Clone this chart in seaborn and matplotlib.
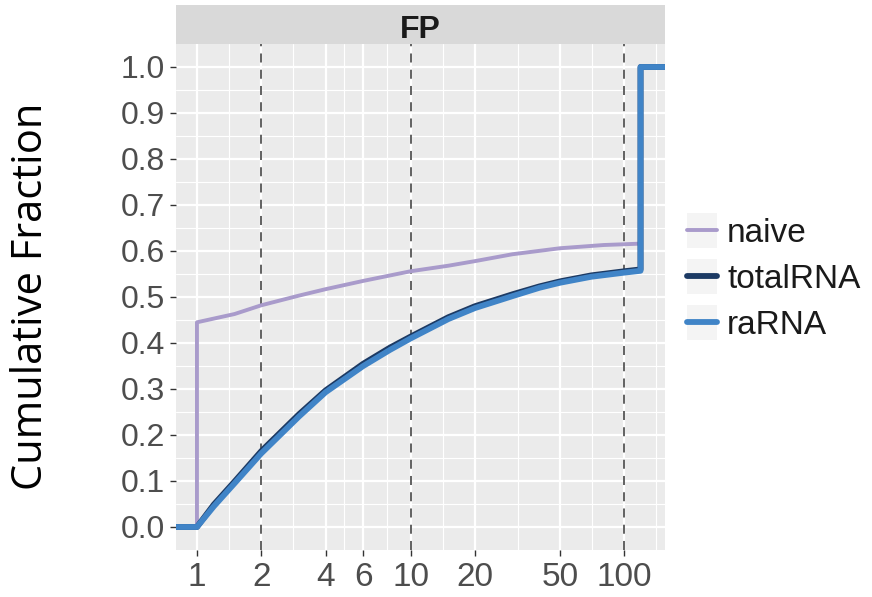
import numpy as np
import pandas as pd
import matplotlib
matplotlib.use("Agg")
import matplotlib.pyplot as plt
import seaborn as sns
from matplotlib.ticker import FixedLocator, NullFormatter
from matplotlib.legend_handler import HandlerLine2D
from matplotlib.patches import Rectangle

# Cumulative fraction of genes against fold change (log scale), panel "FP"
naive_x = [1, 1, 1.5, 2, 3, 4, 6, 10, 15, 20, 30, 50, 80, 119, 119]
naive_y = [0, 0.445, 0.463, 0.482, 0.503, 0.517, 0.535, 0.556, 0.568, 0.578, 0.593, 0.606, 0.613, 0.616, 1.0]

total_x = [1, 1.2, 1.5, 2, 3, 4, 6, 8, 10, 15, 20, 30, 40, 50, 70, 100, 119, 119]
total_y = [0, 0.049, 0.099, 0.165, 0.245, 0.297, 0.355, 0.390, 0.414, 0.456, 0.480, 0.506, 0.523, 0.534, 0.547, 0.556, 0.560, 1.0]

ra_x = [1, 1.2, 1.5, 2, 3, 4, 6, 8, 10, 15, 20, 30, 40, 50, 70, 100, 119, 119]
ra_y = [0, 0.045, 0.095, 0.160, 0.240, 0.293, 0.350, 0.385, 0.410, 0.452, 0.476, 0.502, 0.520, 0.531, 0.544, 0.553, 0.557, 1.0]

groups = ["naive", "totalRNA", "raRNA"]
colors = ["#a99bcb", "#1c3a64", "#4084c7"]
widths = [2.8, 4.2, 4.2]

x_breaks = [1, 2, 4, 6, 10, 20, 50, 100]
x_labels = ["1", "2", "4", "6", "10", "20", "50", "100"]
ref_lines = [2, 10, 100]
y_breaks = [0.0, 0.1, 0.2, 0.3, 0.4, 0.5, 0.6, 0.7, 0.8, 0.9, 1.0]

# ECDF ends run out to the panel edges (beyond the visible range)
x_pad_lo, x_pad_hi = 0.5, 300

series = {"naive": (naive_x, naive_y), "totalRNA": (total_x, total_y), "raRNA": (ra_x, ra_y)}
frames = []
for g in groups:
    xs, ys = series[g]
    xs = [x_pad_lo] + list(xs) + [x_pad_hi]
    ys = [0.0] + list(ys) + [1.0]
    frames.append(pd.DataFrame({"fold": xs, "frac": ys, "group": g}))
df = pd.concat(frames, ignore_index=True)

sns.set_theme(style="darkgrid")
plt.rcParams["font.family"] = ["Liberation Sans", "DejaVu Sans"]

fig = plt.figure(figsize=(8.72, 5.97), dpi=100)
fig.patch.set_facecolor("white")
ax = fig.add_axes([176 / 872, 1 - 550 / 597, (665 - 176) / 872, (550 - 44) / 597])
ax.set_facecolor("#ebebeb")

for g, c, w in zip(groups, colors, widths):
    sub = df[df["group"] == g]
    sns.lineplot(data=sub, x="fold", y="frac", sort=False, estimator=None,
                 color=c, linewidth=w, ax=ax, label=g, zorder=3)

ax.set_xscale("log")
ax.set_xlim(10 ** -0.098, 10 ** 2.19)
ax.set_ylim(-0.05, 1.05)

for v in ref_lines:
    ax.axvline(v, color="#555555", linestyle=(0, (5, 4)), linewidth=1.3, zorder=2)

ax.xaxis.set_major_locator(FixedLocator(x_breaks))
ax.set_xticklabels(x_labels)
minor_x = [np.sqrt(a * b) for a, b in zip(x_breaks[:-1], x_breaks[1:])] + [140]
ax.xaxis.set_minor_locator(FixedLocator(minor_x))
ax.xaxis.set_minor_formatter(NullFormatter())
ax.set_yticks(y_breaks)
ax.set_yticklabels([f"{v:.1f}" for v in y_breaks])
ax.yaxis.set_minor_locator(FixedLocator([v + 0.05 for v in y_breaks[:-1]]))

ax.grid(which="major", color="white", linewidth=1.6)
ax.grid(which="minor", color="white", linewidth=0.8)
ax.set_axisbelow(True)
for s in ax.spines.values():
    s.set_visible(False)

ax.tick_params(axis="both", which="major", length=4, width=1.0, color="#333333",
               labelcolor="#4d4d4d", pad=4, bottom=True, left=True)
ax.tick_params(axis="y", labelsize=23)
ax.tick_params(axis="x", labelsize=24, pad=5)
ax.tick_params(which="minor", length=0)
ax.set_xlabel("")
ax.set_ylabel("")


class KeyWithBackground(HandlerLine2D):
    """Legend key drawn over a light grey tile."""

    def create_artists(self, legend, orig_handle, xdescent, ydescent, width,
                       height, fontsize, trans):
        arts = super().create_artists(legend, orig_handle, xdescent, ydescent,
                                      width, height, fontsize, trans)
        extra = 0.35 * fontsize
        tile = Rectangle((-xdescent, -ydescent - extra / 2), width, height + extra,
                         facecolor="#f4f4f4", edgecolor="none", transform=trans)
        return [tile] + arts


handles, labels = ax.get_legend_handles_labels()
leg = ax.legend(handles, labels, loc="center left", bbox_to_anchor=(1.018, 0.535),
                frameon=False, fontsize=24, handlelength=0.9, handletextpad=0.3,
                labelspacing=0.45, borderaxespad=0.0,
                handler_map={h: KeyWithBackground() for h in handles})
for t in leg.get_texts():
    t.set_color("#1a1a1a")

# facet strip
strip = fig.add_axes([176 / 872, 1 - 44 / 597, (665 - 176) / 872, 39 / 597])
strip.set_facecolor("#d9d9d9")
strip.set_xticks([])
strip.set_yticks([])
for s in strip.spines.values():
    s.set_visible(False)
strip.text(0.5, 0.15, "FP", ha="center", va="baseline", fontsize=23, fontweight="bold",
           color="#1a1a1a", transform=strip.transAxes)

fig.text(31 / 872, 1 - 296 / 597, "Cumulative Fraction", rotation=90, ha="center",
         va="center", fontsize=30, color="black", family=["Open Sans", "DejaVu Sans"])

fig.savefig("out.png", dpi=100)
